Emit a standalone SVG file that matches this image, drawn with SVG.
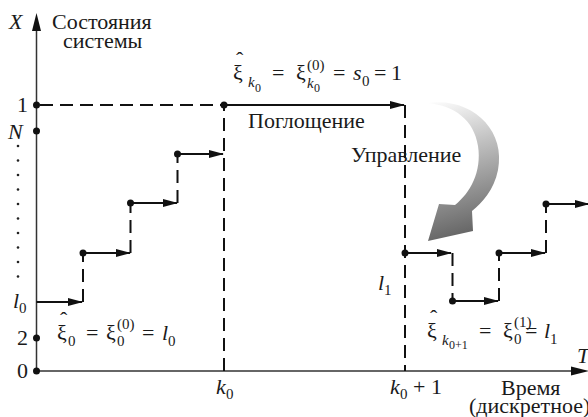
<svg xmlns="http://www.w3.org/2000/svg" width="588" height="417" viewBox="0 0 588 417" style="font-family:'Liberation Serif',serif !important">
<defs>
<marker id="ah" markerWidth="16" markerHeight="10" refX="14" refY="4" orient="auto" markerUnits="userSpaceOnUse" viewBox="0 0 16 8">
<path d="M0,0 L15,4 L0,8 Z" fill="#111"/>
</marker>
<linearGradient id="g" x1="430" y1="100" x2="470" y2="240" gradientUnits="userSpaceOnUse">
<stop offset="0" stop-color="#ffffff"/>
<stop offset="0.35" stop-color="#c4c4c4"/>
<stop offset="1" stop-color="#5e5e5e"/>
</linearGradient>
</defs>

<g id="axes">
<g stroke="#333" stroke-width="1.5" fill="none">
<line x1="36.5" y1="371" x2="36.5" y2="26"/>
<line x1="36.5" y1="371" x2="575" y2="371"/>
</g>
<path d="M36.5,13 L41,31 L32,31 Z" fill="#111"/>
<path d="M589,371 L571,375.5 L571,366.5 Z" fill="#111"/>
<text style="font-family:'Liberation Serif',serif !important" font-size="22" font-style="italic" fill="#1a1a1a" x="9" y="29">X</text>
<text style="font-family:'Liberation Serif',serif !important" font-size="22" fill="#1a1a1a" x="52" y="29">Состояния</text>
<text style="font-family:'Liberation Serif',serif !important" font-size="22" fill="#1a1a1a" x="63" y="48">системы</text>
<text style="font-family:'Liberation Serif',serif !important" font-size="22" font-style="italic" fill="#1a1a1a" x="577" y="363">T</text>
<text style="font-family:'Liberation Serif',serif !important" font-size="22" fill="#1a1a1a" x="501" y="395">Время</text>
<text style="font-family:'Liberation Serif',serif !important" font-size="22" fill="#1a1a1a" x="469" y="413">(дискретное)</text>
</g>

<g id="y-labels">
<text style="font-family:'Liberation Serif',serif !important" font-size="22" fill="#1a1a1a" x="17" y="112">1</text>
<text style="font-family:'Liberation Serif',serif !important" font-size="22" font-style="italic" fill="#1a1a1a" x="8" y="139">N</text>
<text style="font-family:'Liberation Serif',serif !important" font-size="22" font-style="italic" fill="#1a1a1a" x="13" y="308">l</text>
<text style="font-family:'Liberation Serif',serif !important" font-size="15" fill="#1a1a1a" x="19" y="313">0</text>
<text style="font-family:'Liberation Serif',serif !important" font-size="22" fill="#1a1a1a" x="17" y="345">2</text>
<text style="font-family:'Liberation Serif',serif !important" font-size="22" fill="#1a1a1a" x="17" y="378">0</text>
<g fill="#111">
<circle cx="36.5" cy="105" r="3.5"/>
<circle cx="36.5" cy="131" r="3.5"/>
<circle cx="36.5" cy="338" r="3.5"/>
<circle cx="36.5" cy="371" r="3.5"/>
</g>
<g fill="#222">
<circle cx="18" cy="146" r="1.3"/><circle cx="18" cy="160.5" r="1.3"/><circle cx="18" cy="175" r="1.3"/><circle cx="18" cy="189.5" r="1.3"/><circle cx="18" cy="204" r="1.3"/><circle cx="18" cy="218.5" r="1.3"/><circle cx="18" cy="233" r="1.3"/><circle cx="18" cy="247.5" r="1.3"/><circle cx="18" cy="262" r="1.3"/><circle cx="18" cy="276.5" r="1.3"/>
</g>
</g>

<g id="connectors">
<g stroke="#111" stroke-width="2" fill="none" stroke-dasharray="13 7">
<line x1="40" y1="105" x2="224" y2="105"/>
<line x1="224" y1="371" x2="224" y2="105"/>
<line x1="405" y1="105" x2="405" y2="371"/>
<line x1="83" y1="302" x2="83" y2="253"/>
<line x1="130.5" y1="253" x2="130.5" y2="203"/>
<line x1="177.5" y1="203" x2="177.5" y2="154"/>
<line x1="452.5" y1="253" x2="452.5" y2="301"/>
<line x1="499" y1="301" x2="499" y2="253"/>
<line x1="546" y1="253" x2="546" y2="204"/>
</g>
<g stroke="#111" stroke-width="2" fill="none">
<line x1="36.5" y1="302" x2="82" y2="302" marker-end="url(#ah)"/>
<line x1="83" y1="253" x2="130" y2="253" marker-end="url(#ah)"/>
<line x1="130.5" y1="203" x2="177" y2="203" marker-end="url(#ah)"/>
<line x1="177.5" y1="154" x2="223" y2="154" marker-end="url(#ah)"/>
<line x1="224" y1="105" x2="404" y2="105" marker-end="url(#ah)"/>
<line x1="405" y1="253" x2="451" y2="253" marker-end="url(#ah)"/>
<line x1="452.5" y1="301" x2="498" y2="301" marker-end="url(#ah)"/>
<line x1="499" y1="253" x2="545" y2="253" marker-end="url(#ah)"/>
<line x1="546" y1="204" x2="589" y2="204" marker-end="url(#ah)"/>
</g>
<g fill="#111">
<circle cx="83" cy="253" r="3.5"/><circle cx="130.5" cy="203" r="3.5"/><circle cx="177.5" cy="154" r="3.5"/><circle cx="224" cy="105" r="3.5"/>
<circle cx="405" cy="253" r="3.5"/><circle cx="452.5" cy="301" r="3.5"/><circle cx="499" cy="253" r="3.5"/><circle cx="546" cy="204" r="3.5"/>
</g>
</g>

<g id="control-arrow">
<path d="M428,103 C472,97 506,130 498,170 C494,190 482,203 472,211 L473,231 L428,241 L439,204 L455,205 C470,193 482,172 478,146 C474,120 455,106 428,103 Z" fill="url(#g)"/>
</g>

<g id="labels">
<text style="font-family:'Liberation Serif',serif !important" font-size="22" fill="#1a1a1a" x="248" y="128">Поглощение</text>
<text style="font-family:'Liberation Serif',serif !important" font-size="22" fill="#1a1a1a" x="351" y="162">Управление</text>
<text style="font-family:'Liberation Serif',serif !important" font-size="22" font-style="italic" fill="#1a1a1a" x="216" y="394">k</text>
<text style="font-family:'Liberation Serif',serif !important" font-size="15" fill="#1a1a1a" x="226" y="399">0</text>
<text style="font-family:'Liberation Serif',serif !important" font-size="22" font-style="italic" fill="#1a1a1a" x="390" y="394">k</text>
<text style="font-family:'Liberation Serif',serif !important" font-size="15" fill="#1a1a1a" x="400" y="399">0</text>
<text style="font-family:'Liberation Serif',serif !important" font-size="22" fill="#1a1a1a" x="413" y="394">+ 1</text>
<text style="font-family:'Liberation Serif',serif !important" font-size="22" font-style="italic" fill="#1a1a1a" x="378" y="290">l</text>
<text style="font-family:'Liberation Serif',serif !important" font-size="15" fill="#1a1a1a" x="384" y="295">1</text>
</g>

<g id="formula-top">
<text style="font-family:'Liberation Serif',serif !important" font-size="22" fill="#1a1a1a" x="236" y="67">ˆ</text>
<text style="font-family:'Liberation Serif',serif !important" font-size="22" fill="#1a1a1a" x="233" y="80">ξ</text>
<text style="font-family:'Liberation Serif',serif !important" font-size="15" font-style="italic" fill="#1a1a1a" x="248" y="87">k</text>
<text style="font-family:'Liberation Serif',serif !important" font-size="12" fill="#1a1a1a" x="255" y="92">0</text>
<text style="font-family:'Liberation Serif',serif !important" font-size="22" fill="#1a1a1a" x="272" y="80">=</text>
<text style="font-family:'Liberation Serif',serif !important" font-size="22" fill="#1a1a1a" x="296" y="80">ξ</text>
<text style="font-family:'Liberation Serif',serif !important" font-size="15" fill="#1a1a1a" x="307" y="70">(0)</text>
<text style="font-family:'Liberation Serif',serif !important" font-size="15" font-style="italic" fill="#1a1a1a" x="307" y="88">k</text>
<text style="font-family:'Liberation Serif',serif !important" font-size="12" fill="#1a1a1a" x="314" y="92">0</text>
<text style="font-family:'Liberation Serif',serif !important" font-size="22" fill="#1a1a1a" x="333" y="80">=</text>
<text style="font-family:'Liberation Serif',serif !important" font-size="22" font-style="italic" fill="#1a1a1a" x="353" y="80">s</text>
<text style="font-family:'Liberation Serif',serif !important" font-size="15" fill="#1a1a1a" x="362" y="86">0</text>
<text style="font-family:'Liberation Serif',serif !important" font-size="22" fill="#1a1a1a" x="374" y="80">=</text>
<text style="font-family:'Liberation Serif',serif !important" font-size="22" fill="#1a1a1a" x="391" y="80">1</text>
</g>

<g id="formula-left">
<text style="font-family:'Liberation Serif',serif !important" font-size="22" fill="#1a1a1a" x="60" y="327">ˆ</text>
<text style="font-family:'Liberation Serif',serif !important" font-size="22" fill="#1a1a1a" x="57" y="340">ξ</text>
<text style="font-family:'Liberation Serif',serif !important" font-size="15" fill="#1a1a1a" x="68" y="346">0</text>
<text style="font-family:'Liberation Serif',serif !important" font-size="22" fill="#1a1a1a" x="86" y="340">=</text>
<text style="font-family:'Liberation Serif',serif !important" font-size="22" fill="#1a1a1a" x="106" y="340">ξ</text>
<text style="font-family:'Liberation Serif',serif !important" font-size="15" fill="#1a1a1a" x="117" y="329">(0)</text>
<text style="font-family:'Liberation Serif',serif !important" font-size="15" fill="#1a1a1a" x="117" y="346">0</text>
<text style="font-family:'Liberation Serif',serif !important" font-size="22" fill="#1a1a1a" x="142" y="340">=</text>
<text style="font-family:'Liberation Serif',serif !important" font-size="22" font-style="italic" fill="#1a1a1a" x="162" y="340">l</text>
<text style="font-family:'Liberation Serif',serif !important" font-size="15" fill="#1a1a1a" x="168" y="346">0</text>
</g>

<g id="formula-right">
<text style="font-family:'Liberation Serif',serif !important" font-size="22" fill="#1a1a1a" x="430" y="325">ˆ</text>
<text style="font-family:'Liberation Serif',serif !important" font-size="22" fill="#1a1a1a" x="427" y="338">ξ</text>
<text style="font-family:'Liberation Serif',serif !important" font-size="15" font-style="italic" fill="#1a1a1a" x="442" y="345">k</text>
<text style="font-family:'Liberation Serif',serif !important" font-size="12" fill="#1a1a1a" x="449" y="349">0+1</text>
<text style="font-family:'Liberation Serif',serif !important" font-size="22" fill="#1a1a1a" x="479" y="338">=</text>
<text style="font-family:'Liberation Serif',serif !important" font-size="22" fill="#1a1a1a" x="503" y="338">ξ</text>
<text style="font-family:'Liberation Serif',serif !important" font-size="15" fill="#1a1a1a" x="514" y="327">(1)</text>
<text style="font-family:'Liberation Serif',serif !important" font-size="15" fill="#1a1a1a" x="514" y="344">0</text>
<text style="font-family:'Liberation Serif',serif !important" font-size="22" fill="#1a1a1a" x="525" y="338">=</text>
<text style="font-family:'Liberation Serif',serif !important" font-size="22" font-style="italic" fill="#1a1a1a" x="544" y="338">l</text>
<text style="font-family:'Liberation Serif',serif !important" font-size="15" fill="#1a1a1a" x="550" y="344">1</text>
</g>
</svg>
